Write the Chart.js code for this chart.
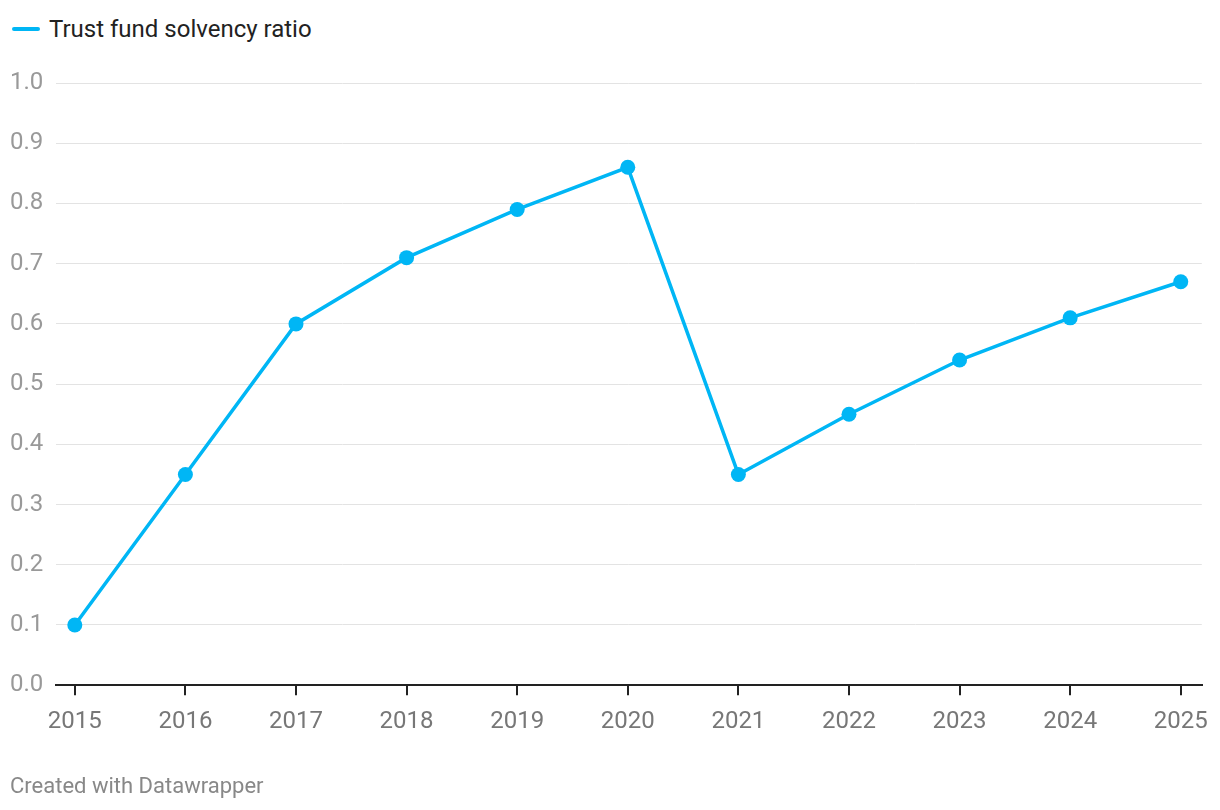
<!DOCTYPE html>
<html>
<head>
<meta charset="utf-8">
<script src="https://cdn.jsdelivr.net/npm/chart.js@4"></script>
<style>
  html, body { margin: 0; padding: 0; background: #fff; }
  body { width: 1220px; height: 810px; position: relative; overflow: hidden; font-family: Roboto, sans-serif; }
  #legend { position: absolute; left: 12px; top: 15px; font-size: 24px; color: #222; display: flex; align-items: center; }
  #legend .swatch { width: 28px; height: 4px; border-radius: 2px; background: #00b6f5; margin-right: 9px; }
  #footer { position: absolute; left: 10px; top: 773px; font-size: 22px; color: #888; }
  #wrap { position: absolute; left: 0; top: 0; width: 1220px; height: 810px; }
</style>
</head>
<body>
<div id="legend"><span class="swatch"></span>Trust fund solvency ratio</div>
<div id="wrap"><canvas id="chart"></canvas></div>
<div id="footer">Created with Datawrapper</div>
<script>
const years = [2015, 2016, 2017, 2018, 2019, 2020, 2021, 2022, 2023, 2024, 2025];
const solvency = [0.10, 0.35, 0.60, 0.71, 0.79, 0.86, 0.35, 0.45, 0.54, 0.61, 0.67];
const yTicks = [0, 0.1, 0.2, 0.3, 0.4, 0.5, 0.6, 0.7, 0.8, 0.9, 1.0];

window.addEventListener("DOMContentLoaded", () => {
  const blue = "#00b6f5";
  new Chart(document.getElementById("chart"), {
    type: "line",
    data: {
      datasets: [{
        label: "Trust fund solvency ratio",
        data: years.map((y, i) => ({ x: y, y: solvency[i] })),
        borderColor: blue,
        backgroundColor: blue,
        borderWidth: 3.5,
        pointRadius: 7.5,
        pointHoverRadius: 7.5,
        pointBorderWidth: 0,
        tension: 0
      }]
    },
    options: {
      responsive: true,
      maintainAspectRatio: false,
      animation: false,
      layout: { padding: { left: 10, right: 14, top: 83, bottom: 62 } },
      plugins: { legend: { display: false }, tooltip: { enabled: false } },
      scales: {
        x: {
          type: "linear",
          min: 2014.83,
          max: 2025.19,
          afterBuildTicks: (scale) => { scale.ticks = years.map((v) => ({ value: v })); },
          ticks: {
            color: "#777",
            font: { family: "Roboto", size: 24 },
            padding: 12,
            maxRotation: 0,
            callback: (v) => String(v)
          },
          grid: { drawOnChartArea: false, color: "#222", lineWidth: 2, tickLength: 10 },
          border: { color: "#222", width: 2 }
        },
        y: {
          min: 0,
          max: 1,
          afterBuildTicks: (scale) => { scale.ticks = yTicks.map((v) => ({ value: v })); },
          afterFit: (scale) => { scale.width = 46; },
          ticks: {
            color: "#999",
            font: { family: "Roboto", size: 24 },
            crossAlign: "far",
            padding: 12,
            callback: (v) => v.toFixed(1)
          },
          grid: { color: "#e3e3e3", lineWidth: 1, drawTicks: false },
          border: { display: false }
        }
      }
    }
  });
});
</script>
</body>
</html>
